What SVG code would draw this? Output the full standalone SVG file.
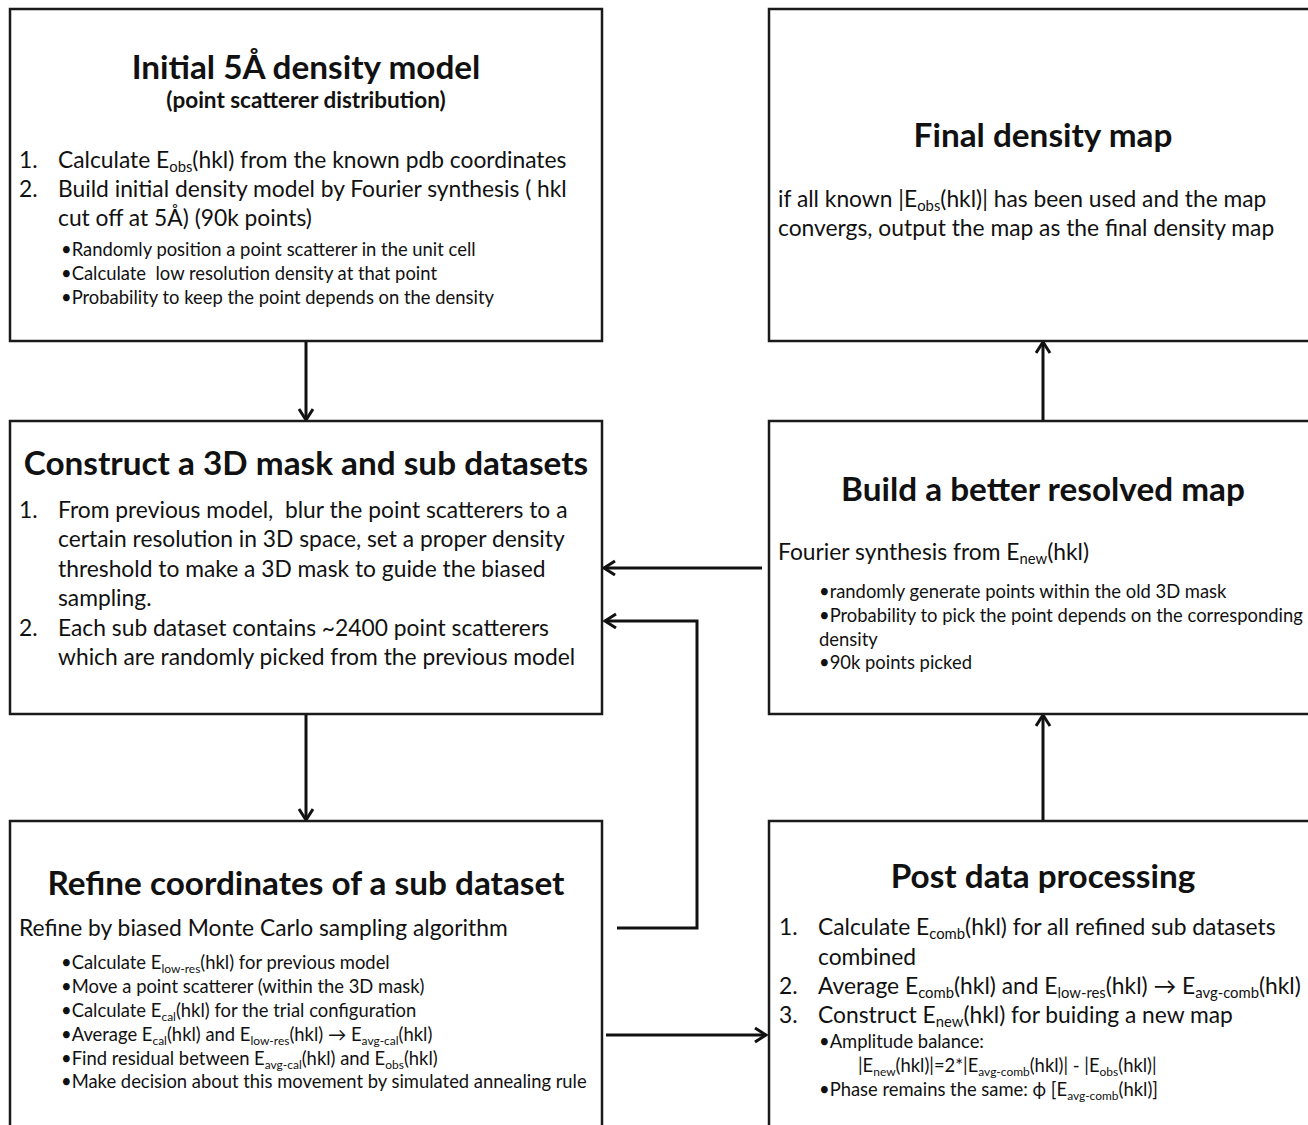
<svg xmlns="http://www.w3.org/2000/svg" width="1308" height="1125" viewBox="0 0 1308 1125">
<defs>
<style>
.box{fill:#fff;stroke:#1a1a1a;stroke-width:2.5}
text{font-family:Lato,"Open Sans","Liberation Sans",sans-serif;fill:#111}
.t{font-weight:bold;font-size:33.3px;text-anchor:middle}
.st{font-weight:bold;font-size:22.5px;text-anchor:middle}
.b{font-size:22.8px}
.s{font-size:18.4px}
.sub{font-size:0.65em}
.con{fill:none;stroke:#111;stroke-width:3}
</style>
<marker id="ah" markerUnits="userSpaceOnUse" markerWidth="18" markerHeight="18" refX="13" refY="8" orient="auto">
<path d="M2,1 L13,8 L2,15" fill="none" stroke="#111" stroke-width="3"/>
</marker>
</defs>
<rect width="1308" height="1125" fill="#fff"/>

<g id="connectors">
<line class="con" x1="306" y1="341" x2="306" y2="420" marker-end="url(#ah)"/>
<line class="con" x1="306" y1="714" x2="306" y2="820" marker-end="url(#ah)"/>
<line class="con" x1="762" y1="568" x2="604" y2="568" marker-end="url(#ah)"/>
<polyline class="con" points="617,928 697,928 697,621 605,621" marker-end="url(#ah)"/>
<line class="con" x1="606" y1="1035" x2="766" y2="1035" marker-end="url(#ah)"/>
<line class="con" x1="1043" y1="821" x2="1043" y2="715" marker-end="url(#ah)"/>
<line class="con" x1="1043" y1="421" x2="1043" y2="342" marker-end="url(#ah)"/>
</g>

<g id="node-initial">
<rect class="box" x="10" y="9" width="592" height="332"/>
<text class="t" x="306" y="79">Initial 5Å density model</text>
<text class="st" x="306" y="108">(point scatterer distribution)</text>
<text class="b" x="19" y="168">1.</text>
<text class="b" x="58" y="168">Calculate E<tspan class="sub" dy="4">obs</tspan><tspan dy="-4">(hkl) from the known pdb coordinates</tspan></text>
<text class="b" x="19" y="197">2.</text>
<text class="b" x="58" y="197">Build initial density model by Fourier synthesis ( hkl</text>
<text class="b" x="58" y="226">cut off at 5Å) (90k points)</text>
<text class="s" x="61" y="256">•Randomly position a point scatterer in the unit cell</text>
<text class="s" x="61" y="280" xml:space="preserve">•Calculate  low resolution density at that point</text>
<text class="s" x="61" y="304">•Probability to keep the point depends on the density</text>
</g>

<g id="node-mask">
<rect class="box" x="10" y="421" width="592" height="293"/>
<text class="t" x="306" y="475">Construct a 3D mask and sub datasets</text>
<text class="b" x="19" y="518">1.</text>
<text class="b" x="58" y="518" xml:space="preserve">From previous model,  blur the point scatterers to a</text>
<text class="b" x="58" y="547">certain resolution in 3D space, set a proper density</text>
<text class="b" x="58" y="577">threshold to make a 3D mask to guide the biased</text>
<text class="b" x="58" y="606">sampling.</text>
<text class="b" x="19" y="636">2.</text>
<text class="b" x="58" y="636">Each sub dataset contains ~2400 point scatterers</text>
<text class="b" x="58" y="665">which are randomly picked from the previous model</text>
</g>

<g id="node-refine">
<rect class="box" x="10" y="821" width="592" height="330"/>
<text class="t" x="306" y="895">Refine coordinates of a sub dataset</text>
<text class="b" x="19" y="936">Refine by biased Monte Carlo sampling algorithm</text>
<text class="s" x="61" y="969">•Calculate E<tspan class="sub" dy="3.5">low-res</tspan><tspan dy="-3.5">(hkl) for previous model</tspan></text>
<text class="s" x="61" y="993">•Move a point scatterer (within the 3D mask)</text>
<text class="s" x="61" y="1017">•Calculate E<tspan class="sub" dy="3.5">cal</tspan><tspan dy="-3.5">(hkl) for the trial configuration</tspan></text>
<text class="s" x="61" y="1041">•Average E<tspan class="sub" dy="3.5">cal</tspan><tspan dy="-3.5">(hkl) and E</tspan><tspan class="sub" dy="3.5">low-res</tspan><tspan dy="-3.5">(hkl) → E</tspan><tspan class="sub" dy="3.5">avg-cal</tspan><tspan dy="-3.5">(hkl)</tspan></text>
<text class="s" x="61" y="1065">•Find residual between E<tspan class="sub" dy="3.5">avg-cal</tspan><tspan dy="-3.5">(hkl) and E</tspan><tspan class="sub" dy="3.5">obs</tspan><tspan dy="-3.5">(hkl)</tspan></text>
<text class="s" x="61" y="1088">•Make decision about this movement by simulated annealing rule</text>
</g>

<g id="node-final">
<rect class="box" x="769" y="9" width="560" height="332"/>
<text class="t" x="1043" y="147">Final density map</text>
<text class="b" x="778" y="207">if all known |E<tspan class="sub" dy="4">obs</tspan><tspan dy="-4">(hkl)| has been used and the map</tspan></text>
<text class="b" x="778" y="236">convergs, output the map as the final density map</text>
</g>

<g id="node-build">
<rect class="box" x="769" y="421" width="560" height="293"/>
<text class="t" x="1043" y="501">Build a better resolved map</text>
<text class="b" x="778" y="560">Fourier synthesis from E<tspan class="sub" dy="4">new</tspan><tspan dy="-4">(hkl)</tspan></text>
<text class="s" x="819" y="598">•randomly generate points within the old 3D mask</text>
<text class="s" x="819" y="622">•Probability to pick the point depends on the corresponding</text>
<text class="s" x="819" y="646">density</text>
<text class="s" x="819" y="669">•90k points picked</text>
</g>

<g id="node-post">
<rect class="box" x="769" y="821" width="560" height="330"/>
<text class="t" x="1043" y="888">Post data processing</text>
<text class="b" x="779" y="935">1.</text>
<text class="b" x="818" y="935">Calculate E<tspan class="sub" dy="4">comb</tspan><tspan dy="-4">(hkl) for all refined sub datasets</tspan></text>
<text class="b" x="818" y="965">combined</text>
<text class="b" x="779" y="994">2.</text>
<text class="b" x="818" y="994">Average E<tspan class="sub" dy="4">comb</tspan><tspan dy="-4">(hkl) and E</tspan><tspan class="sub" dy="4">low-res</tspan><tspan dy="-4">(hkl) → E</tspan><tspan class="sub" dy="4">avg-comb</tspan><tspan dy="-4">(hkl)</tspan></text>
<text class="b" x="779" y="1023">3.</text>
<text class="b" x="818" y="1023">Construct E<tspan class="sub" dy="4">new</tspan><tspan dy="-4">(hkl) for buiding a new map</tspan></text>
<text class="s" x="819" y="1048">•Amplitude balance:</text>
<text class="s" x="858" y="1072">|E<tspan class="sub" dy="3.5">new</tspan><tspan dy="-3.5">(hkl)|=2*|E</tspan><tspan class="sub" dy="3.5">avg-comb</tspan><tspan dy="-3.5">(hkl)| - |E</tspan><tspan class="sub" dy="3.5">obs</tspan><tspan dy="-3.5">(hkl)|</tspan></text>
<text class="s" x="819" y="1096">•Phase remains the same: ϕ [E<tspan class="sub" dy="3.5">avg-comb</tspan><tspan dy="-3.5">(hkl)]</tspan></text>
</g>
</svg>
